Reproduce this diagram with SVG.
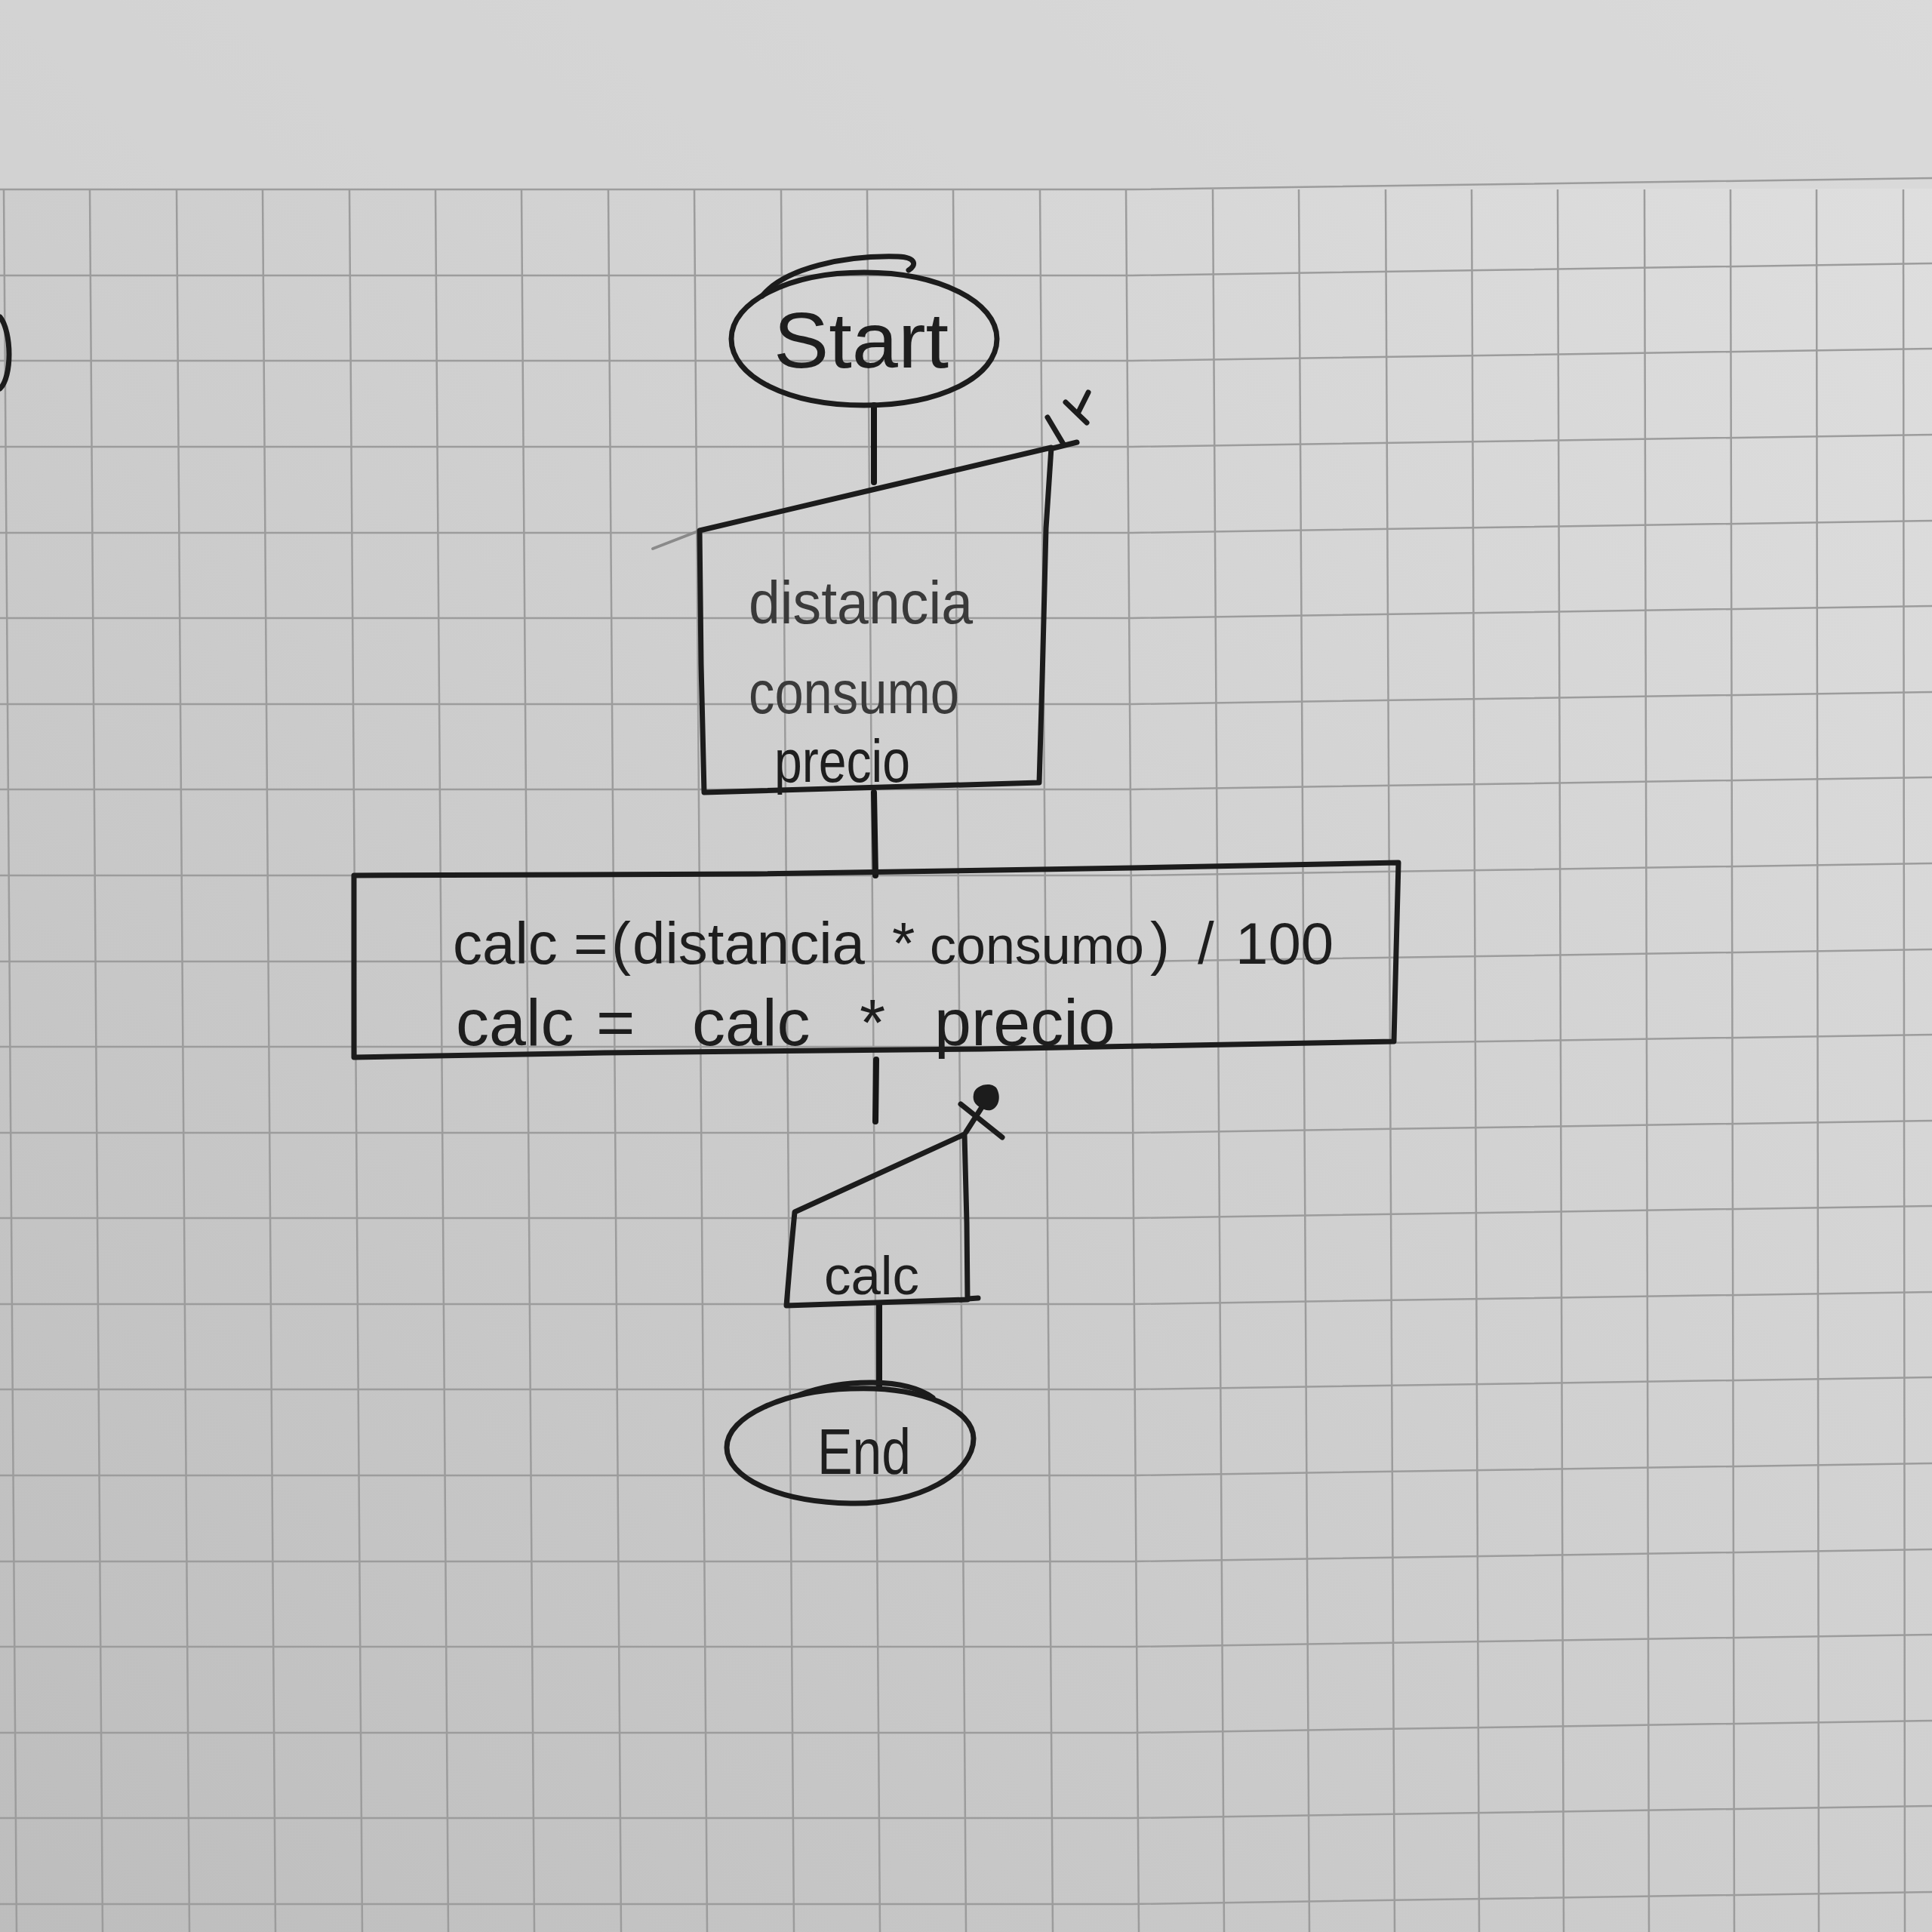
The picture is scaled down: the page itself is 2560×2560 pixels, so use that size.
<svg xmlns="http://www.w3.org/2000/svg" width="2560" height="2560" viewBox="0 0 2560 2560">
<defs>
  <linearGradient id="paper" x1="1" y1="0" x2="0" y2="1">
    <stop offset="0" stop-color="#e0e0e0"/>
    <stop offset="0.5" stop-color="#cfcfcf"/>
    <stop offset="1" stop-color="#bdbdbd"/>
  </linearGradient>
  <style>
    .grid line, .grid polyline { stroke:#9c9c9c; stroke-width:2.5; fill:none; }
    .ink { fill:none; stroke:#1c1c1c; stroke-width:7; stroke-linejoin:round; stroke-linecap:round; }
    .faint { fill:none; stroke:#8a8a8a; stroke-width:4; stroke-linecap:round; }
    .conn { fill:none; stroke:#161616; stroke-width:8; stroke-linecap:round; }
    .t { font-family:"Liberation Sans", Arial, sans-serif; fill:#1e1e1e; }
    .tl { font-family:"Liberation Sans", Arial, sans-serif; fill:#3a3a3a; }
  </style>
</defs>

<rect x="0" y="0" width="2560" height="2560" fill="url(#paper)"/>
<rect x="0" y="0" width="2560" height="250" fill="#d6d6d6" opacity="0.6"/>

<!-- grid paper -->
<g class="grid">
  <line x1="5" y1="251" x2="22" y2="2560"/>
  <line x1="119" y1="251" x2="136" y2="2560"/>
  <line x1="234" y1="251" x2="251" y2="2560"/>
  <line x1="348" y1="251" x2="365" y2="2560"/>
  <line x1="463" y1="251" x2="480" y2="2560"/>
  <line x1="577" y1="251" x2="594" y2="2560"/>
  <line x1="691" y1="251" x2="708" y2="2560"/>
  <line x1="806" y1="251" x2="823" y2="2560"/>
  <line x1="920" y1="251" x2="937" y2="2560"/>
  <line x1="1035" y1="251" x2="1052" y2="2560"/>
  <line x1="1149" y1="251" x2="1166" y2="2560"/>
  <line x1="1263" y1="251" x2="1280" y2="2560"/>
  <line x1="1378" y1="251" x2="1395" y2="2560"/>
  <line x1="1492" y1="251" x2="1509" y2="2560"/>
  <line x1="1607" y1="251" x2="1622" y2="2560"/>
  <line x1="1721" y1="251" x2="1735" y2="2560"/>
  <line x1="1836" y1="251" x2="1848" y2="2560"/>
  <line x1="1950" y1="251" x2="1960" y2="2560"/>
  <line x1="2064" y1="251" x2="2072" y2="2560"/>
  <line x1="2179" y1="251" x2="2185" y2="2560"/>
  <line x1="2293" y1="251" x2="2298" y2="2560"/>
  <line x1="2407" y1="251" x2="2410" y2="2560"/>
  <line x1="2522" y1="251" x2="2524" y2="2560"/>
  <polyline points="0,251 1500,251 2560,236"/>
  <polyline points="0,365 1500,365 2560,349"/>
  <polyline points="0,478 1500,478 2560,462"/>
  <polyline points="0,592 1500,592 2560,576"/>
  <polyline points="0,706 1500,706 2560,690"/>
  <polyline points="0,819 1500,819 2560,803"/>
  <polyline points="0,933 1500,933 2560,917"/>
  <polyline points="0,1046 1500,1046 2560,1030"/>
  <polyline points="0,1160 1500,1160 2560,1144"/>
  <polyline points="0,1274 1500,1274 2560,1258"/>
  <polyline points="0,1387 1500,1387 2560,1371"/>
  <polyline points="0,1501 1500,1501 2560,1485"/>
  <polyline points="0,1614 1500,1614 2560,1598"/>
  <polyline points="0,1728 1500,1728 2560,1712"/>
  <polyline points="0,1841 1500,1841 2560,1825"/>
  <polyline points="0,1955 1500,1955 2560,1939"/>
  <polyline points="0,2069 1500,2069 2560,2053"/>
  <polyline points="0,2182 1500,2182 2560,2166"/>
  <polyline points="0,2296 1500,2296 2560,2280"/>
  <polyline points="0,2409 1500,2409 2560,2393"/>
  <polyline points="0,2523 1500,2523 2560,2507"/>
</g>

<!-- partial mark at left page edge -->
<path class="ink" d="M0,420 C16,440 16,500 0,515" stroke-width="10"/>

<!-- connectors -->
<g id="connectors">
  <line class="conn" x1="1158" y1="537" x2="1158" y2="639"/>
  <line class="conn" x1="1158" y1="1050" x2="1160" y2="1160"/>
  <line class="conn" x1="1161" y1="1404" x2="1160" y2="1486"/>
  <line class="conn" x1="1165" y1="1727" x2="1165" y2="1839"/>
</g>

<!-- Start -->
<g id="start">
  <path class="ink" d="M1145,361 C1245,361 1321,400 1321,449 C1321,500 1245,537 1145,537 C1045,537 969,500 969,449 C969,400 1045,361 1145,361 Z"/>
  <path class="ink" d="M1010,392 C1040,355 1120,338 1190,340 C1215,341 1214,352 1204,358" stroke-width="5"/>
  <text class="t" x="1025" y="487" font-size="104" textLength="232" lengthAdjust="spacingAndGlyphs">Start</text>
</g>

<!-- Input (manual input) -->
<g id="input">
  <path class="faint" d="M865,727 L927,703"/>
  <path class="ink" d="M927,703 L1160,648 L1393,593 L1386,700 L1381,900 L1377,1037 L933,1050 L929,880 Z"/>
  <path class="ink" d="M1388,553 L1410,590 M1395,594 L1427,586 M1412,533 L1440,560 M1442,520 L1428,548" stroke-width="9"/>
  <text class="tl" x="992" y="826" font-size="80" textLength="297" lengthAdjust="spacingAndGlyphs">distancia</text>
  <text class="tl" x="992" y="945" font-size="80" textLength="279" lengthAdjust="spacingAndGlyphs">consumo</text>
  <text class="t" x="1026" y="1036" font-size="80" textLength="180" lengthAdjust="spacingAndGlyphs">precio</text>
</g>

<!-- Process -->
<g id="process">
  <path class="ink" d="M469,1160 L1000,1158 L1500,1150 L1853,1143 L1850,1260 L1847,1380 L1300,1390 L800,1395 L469,1401 L469,1280 Z"/>
  <text class="t" y="1277" font-size="78"><tspan x="600">calc </tspan><tspan x="760">=</tspan><tspan x="810">(</tspan><tspan x="838">distancia </tspan><tspan x="1182">* </tspan><tspan x="1232" font-size="70">consumo</tspan><tspan x="1524">) </tspan><tspan x="1587">/ </tspan><tspan x="1637">100</tspan></text>
  <text class="t" y="1385" font-size="88"><tspan x="604">calc </tspan><tspan x="790">= </tspan><tspan x="917">calc </tspan><tspan x="1139">* </tspan><tspan x="1238">precio</tspan></text>
</g>

<!-- Output (manual input shape) -->
<g id="output">
  <path class="ink" d="M1053,1606 L1278,1503 L1281,1620 L1282,1722 L1042,1730 L1047,1670 Z"/>
  <path class="ink" d="M1282,1721 L1296,1720"/>
  <path class="ink" d="M1273,1463 L1328,1507 M1310,1453 L1280,1500" stroke-width="9"/>
  <path d="M1290,1450 C1292,1436 1318,1432 1322,1445 C1328,1460 1318,1476 1304,1470 C1294,1466 1288,1460 1290,1450 Z" fill="#1c1c1c"/>
  <text class="t" x="1092" y="1715" font-size="72" textLength="126" lengthAdjust="spacingAndGlyphs">calc</text>
</g>

<!-- End -->
<g id="end">
  <path class="ink" d="M1127,1840 C1222,1836 1290,1868 1290,1906 C1290,1952 1218,1994 1127,1992 C1030,1990 963,1958 963,1918 C963,1876 1040,1843 1127,1840 Z"/>
  <path class="ink" d="M1060,1848 C1120,1826 1200,1826 1236,1852" stroke-width="5"/>
  <text class="t" x="1083" y="1953" font-size="86" textLength="124" lengthAdjust="spacingAndGlyphs">End</text>
</g>
</svg>
